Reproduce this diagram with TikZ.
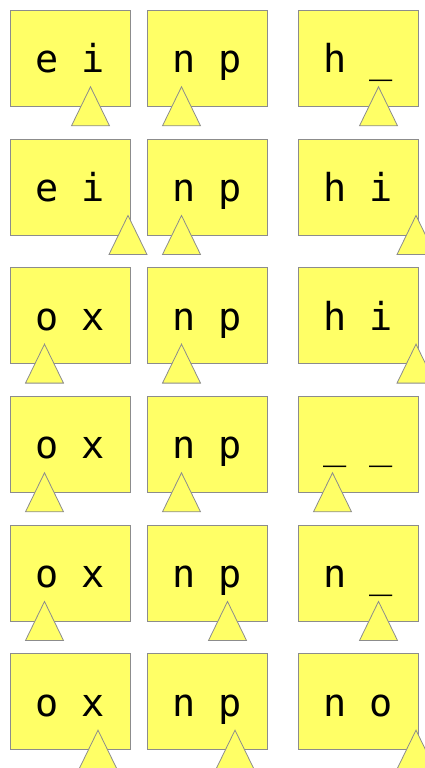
\documentclass[tikz,border=0pt]{standalone}
\usepackage{fontspec}
\setmonofont{DejaVu Sans Mono}
\usetikzlibrary{calc}
\definecolor{cellfill}{HTML}{FFFF66}
\definecolor{cellline}{HTML}{8C8C8C}

\begin{document}
\begin{tikzpicture}[
  x=1pt, y=-1pt,
  cell/.style={draw=cellline, fill=cellfill, line width=0.8pt, minimum width=120pt, minimum height=96pt, inner sep=0pt, anchor=north west},
  word/.style={anchor=base, inner sep=0pt, font=\ttfamily\fontsize{38.5}{40}\selectfont},
  pointer/.style={draw=cellline, fill=cellfill, line width=0.8pt, line join=miter}
]
\useasboundingbox (0,0) rectangle (424,768);
% one row per step: three cells, then the pointer under each cell
\foreach \ta/\tb/\tc/\pa/\pb/\pc [count=\r] in {
  e i/n p/h \_/80.5/34.5/80.5,
  e i/n p/h i/118/34.5/118,
  o x/n p/h i/34.5/34.5/118,
  o x/n p/\_ \_/34.5/34.5/34.5,
  o x/n p/n \_/34.5/80.5/80.5,
  o x/n p/n o/88/88/118}{
  \foreach \c/\x/\t in {a/10/\ta, b/147/\tb, c/298/\tc}{
    \node[cell] (box-\r\c) at (\x, {10+128.67*(\r-1)}) {};
    \node[word] (txt-\r\c) at ([yshift=34pt]box-\r\c.south) {\t};
  }
  \foreach \c/\p in {a/\pa, b/\pb, c/\pc}{
    \coordinate (tip-\r\c) at ([xshift=\p pt, yshift=20pt]box-\r\c.south west);
    \draw[pointer] (tip-\r\c) -- ++(-19pt,-39pt) -- ++(38pt,0pt) -- cycle;
  }
}
\end{tikzpicture}
\end{document}
